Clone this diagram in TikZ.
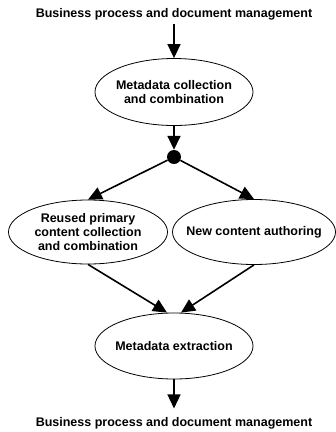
\documentclass[tikz,border=0pt]{standalone}
\usepackage{fontspec}
\setmainfont{Liberation Sans}
\usetikzlibrary{arrows.meta,shapes.geometric}
\begin{document}
\begin{tikzpicture}[x=1pt,y=-1pt,
  every node/.style={font=\fontsize{12.5}{14}\selectfont\bfseries},
  label/.style={inner sep=4pt, anchor=base},
  stage/.style={draw, line width=0.8pt, ellipse, inner sep=-40pt, align=center,
                minimum width=158pt, minimum height=67pt},
  flow/.style={line width=1.6pt, -{Triangle[length=14pt,width=13pt]}},
  junction/.style={circle, fill=black, inner sep=0pt, minimum size=14pt}]
  \useasboundingbox (0,0) rectangle (336,432);

  % source and sink labels
  \node[label] (src) at (174,17.3) {Business process and document management};
  \node[label] (snk) at (174,426.7) {Business process and document management};

  % process stages
  \node[stage] (meta)  at (174,92)  {Metadata collection\\and combination};
  \node[junction] (fork) at (174,157) {};
  \node[stage, minimum width=159pt, minimum height=64pt] (reuse) at (88,232)
        {Reused primary\\content collection\\and combination};
  \node[stage, minimum width=163pt, minimum height=65pt] (author) at (254,232)
        {New content authoring};
  \node[stage, minimum height=66pt] (extract) at (174,346) {Metadata extraction};

  % merge points on the extraction stage
  \coordinate (inL) at ([xshift=-7pt]extract.north);
  \coordinate (inR) at ([xshift=7pt]extract.north);
  \coordinate (out) at ([yshift=5pt]snk.north);

  % connectors
  \draw[flow] (src) -- (meta);
  \draw[flow] (meta) -- (fork);
  \draw[flow] (fork) -- (reuse.north);
  \draw[flow] (fork) -- (author.north);
  \draw[flow] (reuse.south) -- (inL);
  \draw[flow] (author.south) -- (inR);
  \draw[flow] (extract) -- (out);
\end{tikzpicture}
\end{document}
